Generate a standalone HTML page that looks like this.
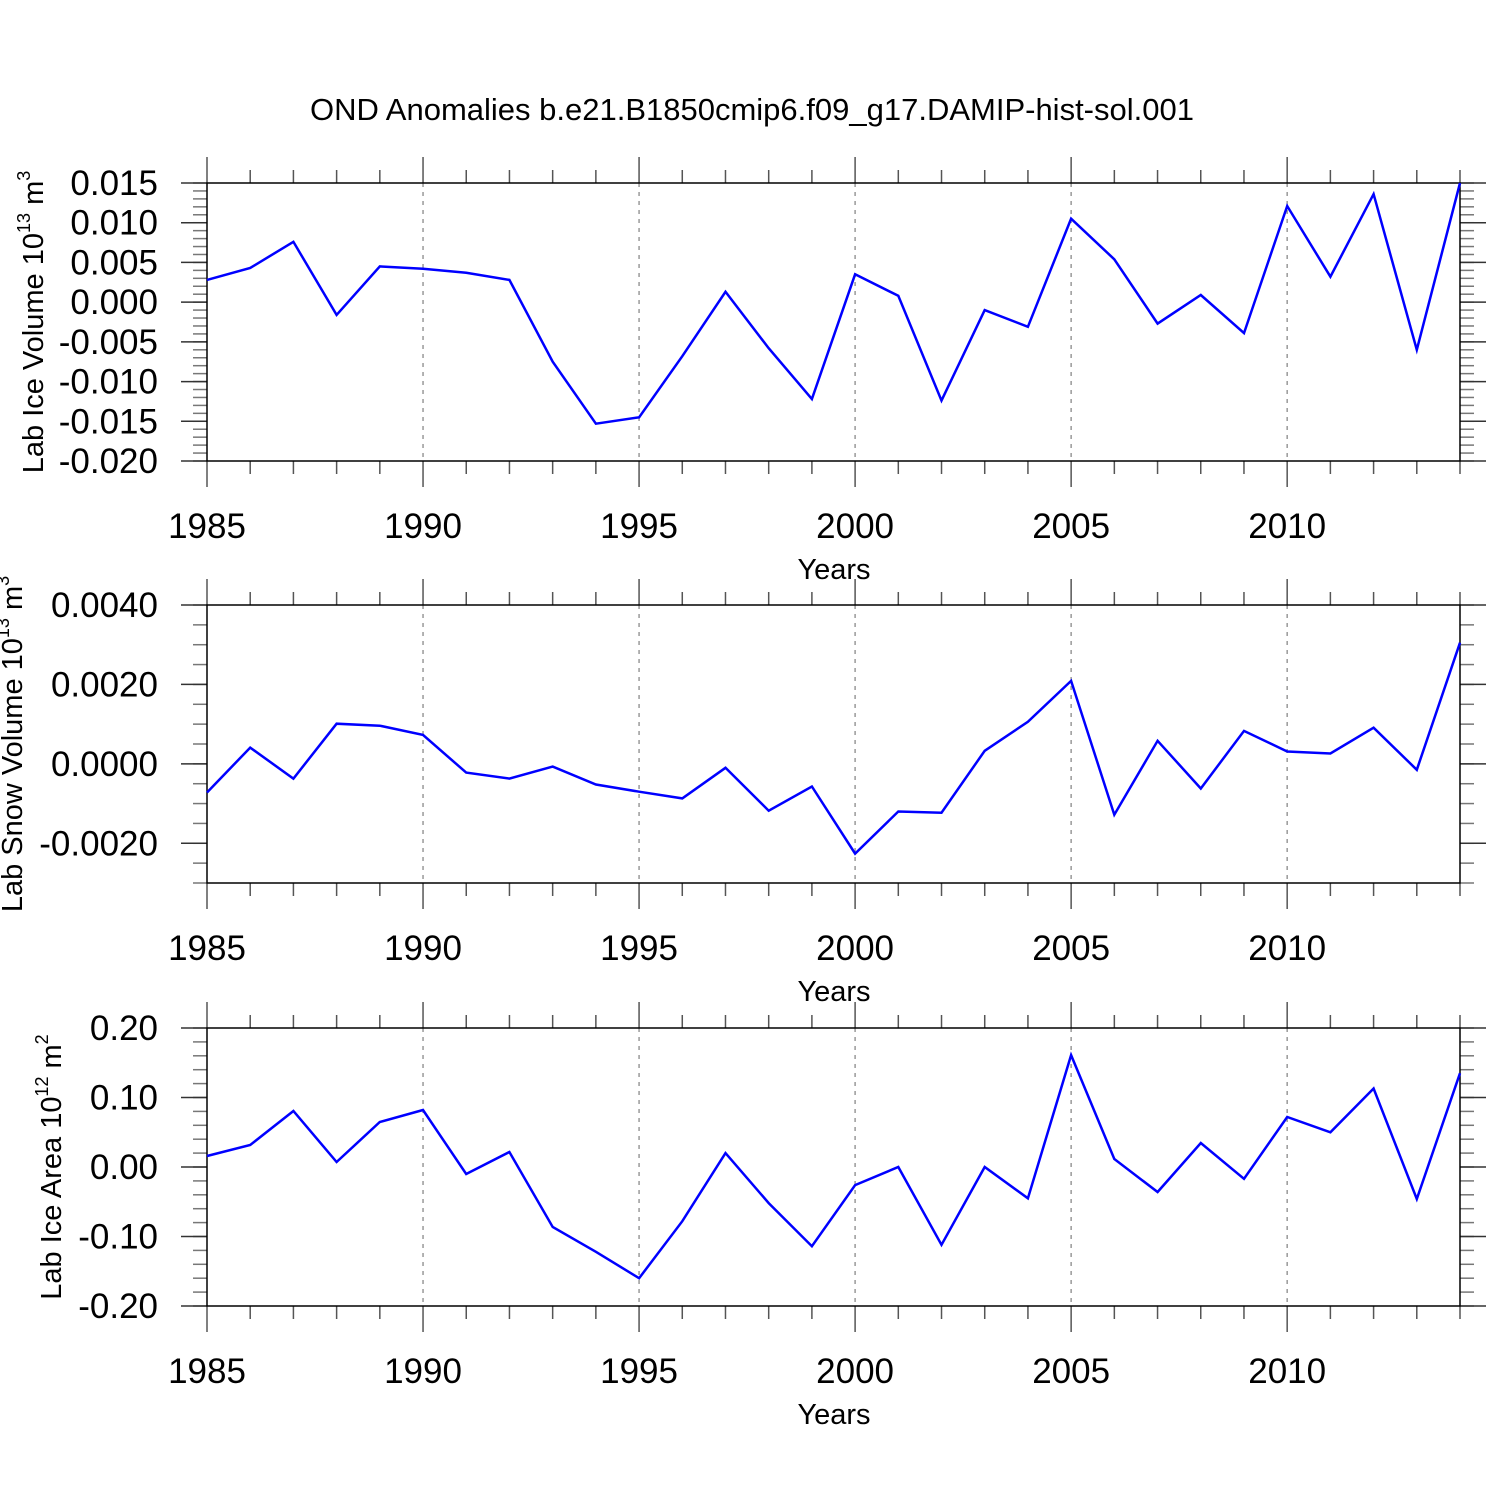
<!DOCTYPE html>
<html><head><meta charset="utf-8"><style>
html,body{margin:0;padding:0;background:#fff}
svg{display:block}
text{font-family:"Liberation Sans",Arial,sans-serif;fill:#000}
</style></head><body>
<svg id="chart" width="1500" height="1500" xmlns="http://www.w3.org/2000/svg">
<text x="752" y="120" font-size="31" text-anchor="middle">OND Anomalies b.e21.B1850cmip6.f09_g17.DAMIP-hist-sol.001</text>
</svg>
<script>
const years = [1985,1986,1987,1988,1989,1990,1991,1992,1993,1994,1995,1996,1997,1998,1999,2000,2001,2002,2003,2004,2005,2006,2007,2008,2009,2010,2011,2012,2013,2014];
const iceVolume = [0.0028,0.0043,0.0076,-0.0016,0.0045,0.0042,0.0037,0.0028,-0.0075,-0.0153,-0.0145,-0.0068,0.0013,-0.0058,-0.0122,0.0035,0.0008,-0.0124,-0.0010,-0.0031,0.0105,0.0054,-0.0027,0.0009,-0.0039,0.0121,0.0032,0.0136,-0.0060,0.0150];
const snowVolume = [-0.00072,0.00041,-0.00037,0.00101,0.00096,0.00073,-0.00022,-0.00037,-0.00007,-0.00052,-0.0007,-0.00087,-0.0001,-0.00118,-0.00057,-0.00226,-0.0012,-0.00123,0.00033,0.00106,0.00209,-0.00128,0.00058,-0.00062,0.00083,0.00031,0.00026,0.00091,-0.00015,0.00305];
const iceArea = [0.0158,0.0317,0.0806,0.0072,0.0647,0.082,-0.010,0.0216,-0.0863,-0.122,-0.160,-0.078,0.020,-0.052,-0.114,-0.026,0.0,-0.112,0.0,-0.045,0.161,0.0115,-0.036,0.0345,-0.017,0.072,0.050,0.113,-0.046,0.135];
const xTickLabels = [1985,1990,1995,2000,2005,2010];
const iceVolTicks = ["0.015","0.010","0.005","0.000","-0.005","-0.010","-0.015","-0.020"];
const snowTicks = ["0.0040","0.0020","0.0000","-0.0020"];
const areaTicks = ["0.20","0.10","0.00","-0.10","-0.20"];

const NS="http://www.w3.org/2000/svg";
const svg=document.getElementById('chart');
function mk(tag,attrs,parent){const e=document.createElementNS(NS,tag);for(const k in attrs)e.setAttribute(k,attrs[k]);(parent||svg).appendChild(e);return e;}
const X0=207,X1=1460;
function xs(yr){return X0+(yr-1985)*(X1-X0)/29;}

function panel(name,top,bot,vmax,vmin,values,ticks,minorStep,titleX,titleY,titleMain,exp){
  const g=mk('g',{});
  
  
  const ys=v=>top+(vmax-v)*(bot-top)/(vmax-vmin);
  for(let yr=1990;yr<=2010;yr+=5){
    const l=mk('line',{x1:xs(yr),x2:xs(yr),y1:top,y2:bot,stroke:'#999','stroke-width':1.5,'stroke-dasharray':'4,5'},g);
    
    
  }
  for(let yr=1985;yr<=2014;yr++){
    const major=(yr%5===0);const len=major?26:13;
    mk('line',{x1:xs(yr),x2:xs(yr),y1:top-len,y2:top,stroke:'#555','stroke-width':1.5},g);
    mk('line',{x1:xs(yr),x2:xs(yr),y1:bot,y2:bot+len,stroke:'#555','stroke-width':1.5},g);
  }
  xTickLabels.forEach(yr=>{
    const t=mk('text',{x:xs(yr),y:bot+77,'font-size':35,'text-anchor':'middle'},g);
    
    
    t.textContent=yr;
  });
  const xt=mk('text',{x:834,y:bot+118,'font-size':29,'text-anchor':'middle'},g);
  
  
  xt.textContent='Years';
  const n=Math.round((vmax-vmin)/minorStep);
  for(let i=0;i<=n;i++){
    const y=ys(vmax-i*minorStep);
    mk('line',{x1:X0-14,x2:X0,y1:y,y2:y,stroke:'#777','stroke-width':1.5},g);
    mk('line',{x1:X1,x2:X1+14,y1:y,y2:y,stroke:'#777','stroke-width':1.5},g);
  }
  ticks.forEach(s=>{
    const v=parseFloat(s);const y=ys(v);
    mk('line',{x1:X0-26,x2:X0,y1:y,y2:y,stroke:'#333','stroke-width':1.5},g);
    mk('line',{x1:X1,x2:X1+26,y1:y,y2:y,stroke:'#333','stroke-width':1.5},g);
    const t=mk('text',{x:158,y:y+12,'font-size':35,'text-anchor':'end'},g);
    
    
    t.textContent=s;
  });
  mk('rect',{x:X0,y:top,width:X1-X0,height:bot-top,fill:'none',stroke:'#000','stroke-width':1.5},g);
  const pts=values.map((v,i)=>xs(years[i]).toFixed(1)+','+ys(v).toFixed(1)).join(' ');
  const pl=mk('polyline',{points:pts,fill:'none',stroke:'#0000ff','stroke-width':2.5,'stroke-linejoin':'miter'},g);
  
  
  const yt=mk('text',{x:0,y:0,'font-size':29,'text-anchor':'middle',transform:`translate(${titleX},${titleY}) rotate(-90)`},g);
  
  
  yt.innerHTML=titleMain+' 10<tspan font-size="18" dy="-13">'+exp+'</tspan><tspan dy="13"> m</tspan><tspan font-size="18" dy="-13">'+(name==='ice-area'?'2':'3')+'</tspan>';
}
panel('ice-volume',183,461,0.015,-0.020,iceVolume,iceVolTicks,0.001,43,322,'Lab Ice Volume','13');
panel('snow-volume',605,883,0.004,-0.003,snowVolume,snowTicks,0.0005,22,744,'Lab Snow Volume','13');
panel('ice-area',1028,1306,0.20,-0.20,iceArea,areaTicks,0.02,61,1167,'Lab Ice Area','12');
</script>
</body></html>
